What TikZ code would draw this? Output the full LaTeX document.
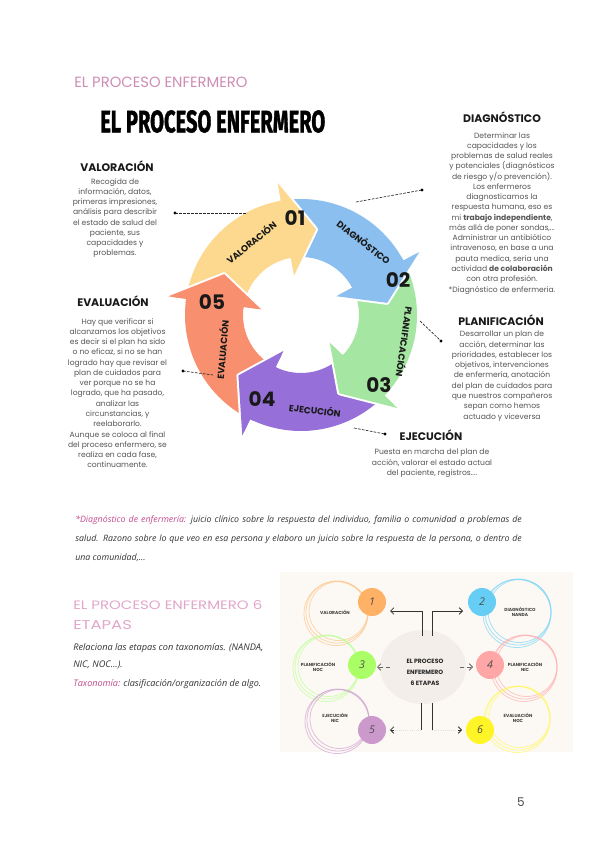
\documentclass[tikz,border=0pt]{standalone}
\usepackage{fontspec}
\usepackage{graphicx}
\setmainfont{Poppins}
\newfontfamily\handfont{Open Sans}
\newfontfamily\titlefont{Fira Sans}[BoldFeatures={FakeBold=1.6}]
\usetikzlibrary{arrows.meta,calc,shapes.geometric}
\definecolor{cyel}{HTML}{FCD98E}
\definecolor{cblu}{HTML}{8BBFF0}
\definecolor{cgrn}{HTML}{A5E6A2}
\definecolor{cpur}{HTML}{9670D8}
\definecolor{cora}{HTML}{F8906F}
\definecolor{pinkh}{HTML}{CF8DB6}
\definecolor{pinkl}{HTML}{E2A6CA}
\definecolor{magh}{HTML}{C24A8E}
\definecolor{bodyg}{HTML}{555555}
\definecolor{cream}{HTML}{FCF9F4}
\definecolor{beige}{HTML}{F3EEEA}
\newcommand{\cycbody}[2]{%
  \pgfmathsetmacro{\ta}{#2+20}\pgfmathsetmacro{\tb}{#2-52}%
  \fill[#1] plot[domain=\ta:\tb, samples=30] (\x:116)
    -- plot[domain=\tb:\ta, samples=30] (\x:58) -- cycle;}
\newcommand{\cychead}[2]{%
  \pgfmathsetmacro{\tb}{#2-52}\pgfmathsetmacro{\tbb}{#2-50}\pgfmathsetmacro{\tc}{#2-72}%
  \fill[#1] (\tbb:58) -- (\tbb:116) -- (\tb:116) -- (\tb:134) -- (\tc:87) -- (\tb:40) -- (\tb:58) -- cycle;
  \draw[white, line width=3pt, line join=round] (\tb:134) -- (\tc:87) -- (\tb:40);
  \fill[#1] (\tb:134) -- (\tc:87) -- (\tb:40) -- cycle;}
\newcommand{\sketchring}[3]{% center, radius, color
  \draw[ring, #3] (#1) circle[radius=#2];
  \draw[ring, #3] ($(#1)+(1.5,-1)$) circle[radius=#2-1.5];
  \draw[ring, #3] ($(#1)+(-1,1.5)$) circle[radius=#2+1];}
\tikzset{
  body/.style={font=\fontsize{5.7}{7.7}\selectfont, text=bodyg, align=center, inner sep=0pt, anchor=north},
  headtxt/.style={font=\fontsize{8.2}{9}\selectfont\bfseries, text=black!90, inner sep=0pt, anchor=base},
  arrlabel/.style={font=\fontsize{6.8}{7}\selectfont\bfseries, text=black!90, inner sep=0pt},
  numtxt/.style={font=\fontsize{15}{15}\selectfont\bfseries, text=black!90, inner sep=0pt},
  leader/.style={dash pattern=on 2pt off 1pt, line width=0.5pt, black!85},
  dotend/.style={circle, fill=black, inner sep=0pt, minimum size=2.6pt},
  ring/.style={line width=0.6pt, opacity=0.7},
  stagelbl/.style={font=\fontsize{3.3}{4.2}\selectfont\bfseries, text=black!75, align=center, inner sep=0pt},
  stagenum/.style={font=\handfont\itshape\fontsize{8}{8}\selectfont, text=black!70, inner sep=0pt},
  handtxt/.style={font=\handfont\itshape\fontsize{6.6}{7}\selectfont, text=black!80, inner sep=0pt, anchor=base west},
  barb/.style={-{Straight Barb[length=2.5pt,width=5pt]}, line width=0.6pt, black!80},
}
\begin{document}
\begin{tikzpicture}[x=0.75pt,y=-0.75pt]
\useasboundingbox (0,0) rectangle (600,848);
\fill[white] (0,0) rectangle (600,848);

% headers
\node[anchor=west, inner sep=0pt, text=pinkh, font=\fontsize{10}{10}\selectfont] (hdr) at (74,82) {\resizebox{130pt}{!}{EL PROCESO ENFERMERO}};
\node[anchor=north west, inner sep=0pt] (title) at (100,110) {\resizebox{168.75pt}{16.5pt}{\titlefont\bfseries EL PROCESO ENFERMERO}};

% cycle
\begin{scope}[shift={(301,315)}, yscale=-1]
  \cycbody{cyel}{152}
  \cycbody{cblu}{80}
  \cycbody{cgrn}{8}
  \cycbody{cpur}{-64}
  \cycbody{cora}{-136}
  \cychead{cyel}{152}
  \cychead{cblu}{80}
  \cychead{cgrn}{8}
  \cychead{cpur}{-64}
  \cychead{cora}{-136}
\end{scope}

\node[arrlabel, rotate=39] (lv) at (251,242) {VALORACIÓN};
\node[numtxt] (n1) at (295,218) {01};
\node[arrlabel, rotate=-38] (ld) at (364,242) {DIAGNÓSTICO};
\node[numtxt] (n2) at (398,280) {02};
\node[arrlabel, rotate=-98] (lp) at (405,342) {PLANIFICACIÓN};
\node[numtxt] (n3) at (379,385) {03};
\node[arrlabel, rotate=-7] (le) at (315,410) {EJECUCIÓN};
\node[numtxt] (n4) at (262,399) {04};
\node[arrlabel, rotate=85] (lev) at (222,350) {EVALUACIÓN};
\node[numtxt] (n5) at (212,302) {05};

% leaders
\node[dotend] (dv) at (175,213) {};
\coordinate (cv) at (247,213);
\draw[leader] (dv.center) -- (cv);
\node[dotend] (dd) at (422,190) {};
\coordinate (cd) at (356,202);
\draw[leader] (cd) -- (dd.center);
\node[dotend] (dp) at (441,341) {};
\coordinate (cp) at (420,321);
\draw[leader] (cp) -- (dp.center);
\node[dotend] (de) at (385,434) {};
\coordinate (ce) at (354,428);
\draw[leader] (ce) -- (de.center);
\node[dotend] (dev) at (183,371) {};
\coordinate (cev) at (213,375);
\draw[leader] (dev.center) -- (cev);

% text blocks
\node[headtxt] (hv) at (117,171.8) {VALORACIÓN};
\node[body] (bv) at (115,178) {Recogida de\\información, datos,\\primeras impresiones,\\análisis para describir\\el estado de salud del\\paciente, sus\\capacidades y\\problemas.};

\node[headtxt] (hd) at (502,122.8) {DIAGNÓSTICO};
\node[body] (bd) at (502,132) {Determinar las\\capacidades y los\\problemas de salud reales\\y potenciales (diagnósticos\\de riesgo y/o prevención).\\Los enfermeros\\diagnosticamos la\\respuesta humana, eso es\\mi \textbf{trabajo independiente},\\más allá de poner sondas,...\\Administrar un antibiótico\\intravenoso, en base a una\\pauta medica, seria una\\actividad \textbf{de colaboración}\\con otra profesión.\\*Diagnóstico de enfermeria.};

\node[headtxt] (hev) at (113,306.8) {EVALUACIÓN};
\node[body] (bev) at (117.5,318) {Hay que verificar si\\alcanzamos los objetivos\\es decir si el plan ha sido\\o no eficaz, si no se han\\logrado hay que revisar el\\plan de cuidados para\\ver porque no se ha\\logrado, que ha pasado,\\analizar las\\circunstancias, y\\reelaborarlo.\\Aunque se coloca al final\\del proceso enfermero, se\\realiza en cada fase,\\continuamente.};

\node[headtxt] (hp) at (501,325.8) {PLANIFICACIÓN};
\node[body] (bp) at (502,331) {Desarrollar un plan de\\acción, determinar las\\prioridades, establecer los\\objetivos, intervenciones\\de enfermería, anotación\\del plan de cuidados para\\que nuestros compañeros\\sepan como hemos\\actuado y viceversa};

\node[headtxt] (he) at (431,440.8) {EJECUCIÓN};
\node[body] (be) at (432,449) {Puesta en marcha del plan de\\acción, valorar el estado actual\\del paciente, registros....};

% handwritten paragraph
\node[handtxt] (h1) at (75,522.5) {\makebox[335pt][s]{\textcolor{magh}{*Diagnóstico de enfermería:} juicio clínico sobre la respuesta del individuo, familia o comunidad a problemas de}};
\node[handtxt] (h2) at (75,541.5) {\makebox[335pt][s]{salud. Razono sobre lo que veo en esa persona y elaboro un juicio sobre la respuesta de la persona, o dentro de}};
\node[handtxt] (h3) at (75,560) {una comunidad,...};

% bottom-left
\node[anchor=base west, inner sep=0pt, text=pinkl, font=\fontsize{9.6}{10}\selectfont] (s1) at (73,609.5) {\resizebox{141.75pt}{6.75pt}{EL PROCESO ENFERMERO 6}};
\node[anchor=base west, inner sep=0pt, text=pinkl, font=\fontsize{9.6}{10}\selectfont] (s2) at (73,629.5) {\resizebox{44pt}{6.75pt}{ETAPAS}};
\node[handtxt, font=\handfont\itshape\fontsize{6.9}{7}\selectfont] (r1) at (73,650) {Relaciona las etapas con taxonomías. (NANDA,};
\node[handtxt, font=\handfont\itshape\fontsize{6.9}{7}\selectfont] (r2) at (73,667) {NIC, NOC...).};
\node[handtxt, font=\handfont\itshape\fontsize{6.8}{7}\selectfont] (r3) at (73,686) {\textcolor{magh}{Taxonomía:} clasificación/organización de algo.};

% infographic
\fill[cream] (280,572) rectangle (573,752);
\sketchring{337,612}{31}{orange!45}
\sketchring{518,612}{33}{cyan!50}
\sketchring{327,667}{32}{lime!50!green!40}
\sketchring{525,667}{32}{red!30}
\sketchring{338,720}{31}{violet!35}
\sketchring{518,718}{32}{yellow!60}
\node[ellipse, fill=beige, minimum width=64.5pt, minimum height=55.5pt, inner sep=0pt] (ctr) at (423,667) {};
\node[stagelbl, font=\fontsize{4.6}{8.25}\selectfont\bfseries, text=black!85] (ctrt) at (425,672) {EL PROCESO\\ENFERMERO\\6 ETAPAS};
\node[circle, fill=orange!60, minimum size=21pt, inner sep=0pt] (c1) at (372,602) {};
\node[circle, fill=cyan!60, minimum size=21pt, inner sep=0pt] (c2) at (482,602) {};
\node[circle, fill=lime!60!green!60, minimum size=21pt, inner sep=0pt] (c3) at (362,665) {};
\node[circle, fill=red!35, minimum size=21pt, inner sep=0pt] (c4) at (490,665) {};
\node[circle, fill=violet!40, minimum size=21pt, inner sep=0pt] (c5) at (372,730) {};
\node[circle, fill=yellow!85, minimum size=21pt, inner sep=0pt] (c6) at (480,730) {};
\node[stagenum] (k1) at (c1) {1};
\node[stagenum] (k2) at (c2) {2};
\node[stagenum] (k3) at (c3) {3};
\node[stagenum] (k4) at (c4) {4};
\node[stagenum] (k5) at (c5) {5};
\node[stagenum] (k6) at (c6) {6};
\node[stagelbl] (t1) at (335,612) {VALORACIÓN};
\node[stagelbl] (t2) at (520,612) {DIAGNÓSTICO\\NANDA};
\node[stagelbl] (t3) at (318,667) {PLANIFICACIÓN\\NOC};
\node[stagelbl] (t4) at (525,667) {PLANIFICACIÓN\\NIC};
\node[stagelbl] (t5) at (335,718) {EJECUCIÓN\\NIC};
\node[stagelbl] (t6) at (518,718) {EVALUACIÓN\\NOC};
% connectors
\coordinate (ul) at (422,636); \coordinate (ulk) at (422,611); \coordinate (ula) at (390,611);
\coordinate (ur) at (432,636); \coordinate (urk) at (432,611); \coordinate (ura) at (463,611);
\draw[barb] (ul) -- (ulk) -- (ula);
\draw[barb] (ur) -- (urk) -- (ura);
\coordinate (ml) at (390,667); \coordinate (mla) at (377,667);
\coordinate (mr) at (460,667); \coordinate (mra) at (473,667);
\draw[barb, densely dashed, black!60] (ml) -- (mla);
\draw[barb, densely dashed, black!60] (mr) -- (mra);
\coordinate (bl) at (421,703); \coordinate (blk) at (421,730); \coordinate (bla) at (390,730);
\coordinate (br) at (432,703); \coordinate (brk) at (432,730); \coordinate (bra) at (462,730);
\coordinate (blb) at (394,730); \coordinate (brb) at (458,730);
\draw[line width=0.6pt, black!80] (bl) -- (blk);
\draw[line width=0.6pt, black!80] (br) -- (brk);
\draw[black!12, densely dotted, line width=0.6pt] (blk) -- (blb);
\draw[black!12, densely dotted, line width=0.6pt] (brk) -- (brb);
\draw[barb] (blb) -- (bla);
\draw[barb] (brb) -- (bra);

% page number
\node[inner sep=0pt, text=black!70, font=\fontsize{9}{9}\selectfont] (pg) at (521,802) {5};
\end{tikzpicture}
\end{document}
